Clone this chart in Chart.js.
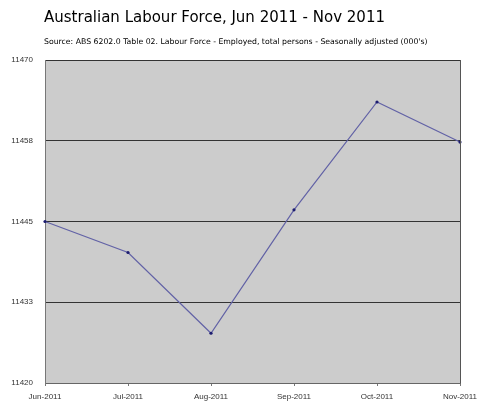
<!DOCTYPE html>
<html>
<head>
<meta charset="utf-8">
<script src="https://cdn.jsdelivr.net/npm/chart.js@4.4.0/dist/chart.umd.min.js"></script>
<style>
  html, body { margin: 0; padding: 0; background: #fff; }
  #wrap { position: relative; width: 490px; height: 407px; }
</style>
</head>
<body>
<div id="wrap"><canvas id="myChart" width="490" height="407"></canvas></div>
<script>
// data
const months = ["Jun-2011", "Jul-2011", "Aug-2011", "Sep-2011", "Oct-2011", "Nov-2011"];
const employed = [11445.0, 11440.2, 11427.7, 11446.8, 11463.5, 11457.3];
const yTicks = [11420, 11432.5, 11445, 11457.5, 11470];

const titleText = "Australian Labour Force, Jun 2011 - Nov 2011";
const subtitleText = "Source: ABS 6202.0 Table 02. Labour Force - Employed, total persons - Seasonally adjusted (000's)";

// grey plot background, right frame line and the two heading lines
const plotFrame = {
    id: 'plotFrame',
    beforeDraw(chart) {
        const a = chart.chartArea, c = chart.ctx;
        c.save();
        c.fillStyle = '#cccccc';
        c.fillRect(a.left, a.top, a.right - a.left, a.bottom - a.top);
        c.restore();
    },
    afterDraw(chart) {
        const a = chart.chartArea, c = chart.ctx;
        c.save();
        c.strokeStyle = '#555555';
        c.lineWidth = 1;
        c.beginPath();
        c.moveTo(Math.round(a.right) + 0.5, a.top);
        c.lineTo(Math.round(a.right) + 0.5, a.bottom);
        c.stroke();
        c.fillStyle = '#000';
        c.textBaseline = 'middle';
        c.font = '15px "DejaVu Sans"';
        c.fillText(titleText, 44, 18);
        c.font = '7.75px "DejaVu Sans"';
        c.fillText(subtitleText, 44, 42);
        c.restore();
    }
};

let ctx = document.getElementById("myChart");
let myChart = new Chart(ctx, {
    type: 'line',
    data: {
        labels: months,
        datasets: [{
            label: 'Employed',
            data: employed,
            borderColor: '#6262a6',
            borderWidth: 1.2,
            pointRadius: 1.6,
            pointBackgroundColor: '#1c1c70',
            pointBorderColor: '#1c1c70',
            pointBorderWidth: 0,
            tension: 0
        }]
    },
    options: {
        responsive: false,
        animation: false,
        layout: { padding: { top: 60, right: 30, left: 0, bottom: 0 } },
        plugins: {
            legend: { display: false },
            tooltip: { enabled: false }
        },
        scales: {
            x: {
                offset: false,
                grid: {
                    drawOnChartArea: false,
                    drawTicks: true,
                    tickLength: 3,
                    color: '#777777'
                },
                border: { color: '#666666', width: 1 },
                ticks: {
                    color: '#333333',
                    font: { family: 'Liberation Sans', size: 8 },
                    maxRotation: 0,
                    padding: 6
                },
                afterFit(scale) { scale.height = 24; }
            },
            y: {
                min: 11420,
                max: 11470,
                afterBuildTicks(scale) {
                    scale.ticks = yTicks.map(v => ({ value: v }));
                },
                grid: {
                    color: '#333333',
                    drawTicks: false
                },
                border: { color: '#777777', width: 1 },
                ticks: {
                    color: '#333333',
                    font: { family: 'Liberation Sans', size: 8 },
                    padding: 12,
                    callback: v => Math.round(v)
                },
                afterFit(scale) { scale.width = 45; }
            }
        }
    },
    plugins: [plotFrame]
});
</script>
</body>
</html>
